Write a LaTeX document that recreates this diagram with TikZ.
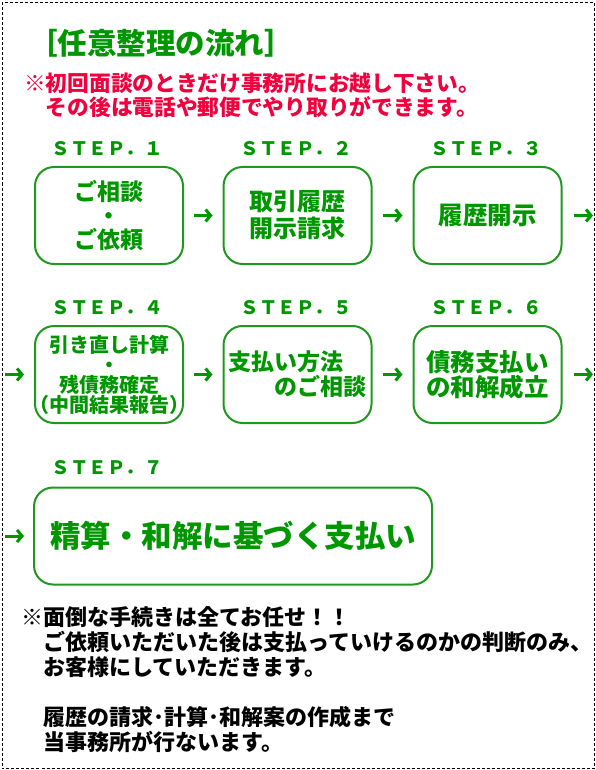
\documentclass[tikz,border=0pt]{standalone}
\usepackage{fontspec}
\newfontfamily\jp{Noto Sans CJK JP}
\usetikzlibrary{arrows.meta}
\definecolor{tgreen}{RGB}{0,150,0}
\definecolor{bgreen}{RGB}{30,152,30}
\definecolor{nred}{RGB}{240,0,60}
\begin{document}
\begin{tikzpicture}[x=1pt,y=-1pt,
  titlestyle/.style={text=tgreen, inner sep=0pt, font=\jp\bfseries\fontsize{29.5}{32}\selectfont},
  notestyle/.style={text=nred, inner sep=0pt, align=left, font=\jp\bfseries\fontsize{21.7}{24}\selectfont},
  footstyle/.style={text=black, inner sep=0pt, align=left, font=\jp\bfseries\fontsize{22}{25}\selectfont},
  steplabel/.style={text=tgreen, inner sep=0pt, font=\jp\bfseries\fontsize{18.5}{20}\selectfont},
  stepbox/.style={draw=bgreen, line width=2pt, rounded corners=19pt, minimum width=148pt,
    minimum height=97pt, inner sep=0pt, align=center, text=tgreen},
  flow/.style={draw=tgreen, line width=3pt, -{Straight Barb[length=5pt,width=12pt]}},
  frame/.style={draw=black, line width=1pt, dash pattern=on 3pt off 2pt}
]
\useasboundingbox (0,0) rectangle (596,770);
\draw[frame] (2,2.5) rectangle (594.5,768);

\node[titlestyle] (title) at (161,43) {［任意整理の流れ］};
\node[notestyle, anchor=west] (note) at (24,95) {※初回面談のときだけ事務所にお越し下さい。\\\hspace*{1em}その後は電話や郵便でやり取りができます。};

\node[steplabel] (s1) at (107,149) {ＳＴＥＰ．１};
\node[steplabel] (s2) at (296,149) {ＳＴＥＰ．２};
\node[steplabel] (s3) at (486,149) {ＳＴＥＰ．３};
\node[steplabel] (s4) at (107,308) {ＳＴＥＰ．４};
\node[steplabel] (s5) at (296,308) {ＳＴＥＰ．５};
\node[steplabel] (s6) at (486,308) {ＳＴＥＰ．６};
\node[steplabel] (s7) at (107,468) {ＳＴＥＰ．７};

\node[stepbox, font=\jp\bfseries\fontsize{23}{24}\selectfont] (b1) at (109,215.5) {ご相談\\・\\ご依頼};
\node[stepbox, font=\jp\bfseries\fontsize{24}{27}\selectfont] (b2) at (297.5,215.5) {取引履歴\\開示請求};
\node[stepbox, font=\jp\bfseries\fontsize{24.5}{27}\selectfont] (b3) at (487.5,215.5) {履歴開示};
\node[stepbox, font=\jp\bfseries\fontsize{20}{20}\selectfont] (b4) at (109,374.5) {引き直し計算\\・\\残債務確定\\\makebox[130pt][c]{（中間結果報告）}};
\node[stepbox, align=left, font=\jp\bfseries\fontsize{23}{25}\selectfont] (b5) at (297.5,374.5) {支払い方法\\\hspace*{2em}のご相談};
\node[stepbox, font=\jp\bfseries\fontsize{24.5}{25}\selectfont] (b6) at (487.5,374.5) {債務支払い\\の和解成立};
\node[stepbox, minimum width=398pt, font=\jp\bfseries\fontsize{30.5}{32}\selectfont] (b7) at (233,536) {精算・和解に基づく支払い};

\coordinate (r1) at (593,215.5);
\coordinate (l2) at (5,374.5);
\coordinate (r2) at (593,374.5);
\coordinate (l3) at (5,536);

\draw[flow, shorten <=10pt, shorten >=10pt] (b1) -- (b2);
\draw[flow, shorten <=10pt, shorten >=10pt] (b2) -- (b3);
\draw[flow, shorten <=11pt] (b3) -- (r1);
\draw[flow, shorten >=10pt] (l2) -- (b4);
\draw[flow, shorten <=10pt, shorten >=10pt] (b4) -- (b5);
\draw[flow, shorten <=10pt, shorten >=10pt] (b5) -- (b6);
\draw[flow, shorten <=11pt] (b6) -- (r2);
\draw[flow, shorten >=9pt] (l3) -- (b7);

\node[footstyle, anchor=west] (foot) at (21,679.5) {※面倒な手続きは全てお任せ！！\\\hspace*{1em}ご依頼いただいた後は支払っていけるのかの判断のみ、\\\hspace*{1em}お客様にしていただきます。\\[25pt]\hspace*{1em}履歴の請求･計算･和解案の作成まで\\\hspace*{1em}当事務所が行ないます。};
\end{tikzpicture}
\end{document}
